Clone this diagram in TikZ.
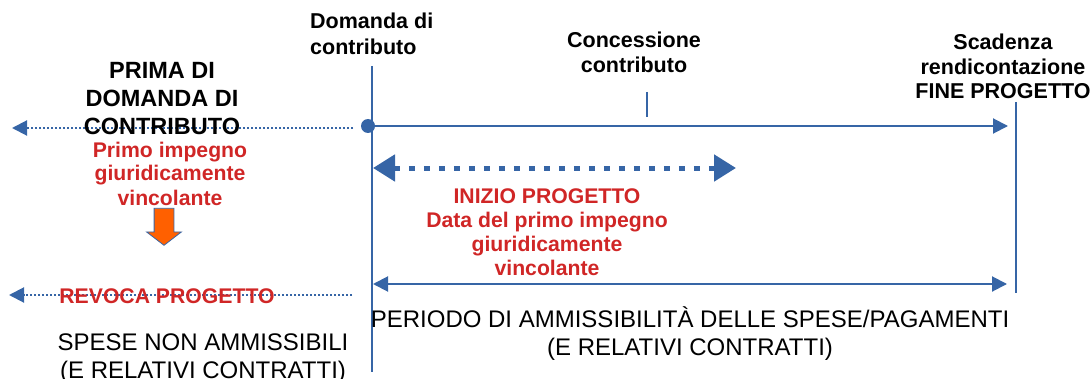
\documentclass[tikz,border=0pt]{standalone}
\usepackage{fontspec}
\setmainfont{Liberation Sans}
\usetikzlibrary{arrows.meta,positioning,shapes.arrows}
\definecolor{lineblue}{RGB}{54,101,166}
\definecolor{textred}{RGB}{208,38,38}
\definecolor{arroworange}{RGB}{255,96,0}
\tikzset{
    vline/.style = {draw=lineblue, line width=2pt},
    solidarrow/.style = {draw=lineblue, line width=2pt, -{Triangle[length=15pt,width=15pt]}},
    dotarrow/.style = {draw=lineblue, line width=2pt, dash pattern=on 2pt off 2pt,
        -{Triangle[length=15pt,width=15pt]}},
    dasharrow/.style = {draw=lineblue, line width=5pt, dash pattern=on 6pt off 9pt,
        {Triangle[length=22pt,width=26pt]}-{Triangle[length=22pt,width=26pt]}},
    dot/.style = {circle, fill=lineblue, inner sep=0pt, minimum size=14pt},
    title/.style = {font=\fontsize{23.5}{28}\selectfont\bfseries, align=center, inner sep=0pt},
    event/.style = {font=\fontsize{21.5}{25}\selectfont\bfseries, align=center, inner sep=0pt},
    redtext/.style = {font=\fontsize{21.2}{24}\selectfont\bfseries, text=textred, align=center, inner sep=0pt},
    plain/.style = {font=\fontsize{24}{28}\selectfont, align=center, inner sep=0pt},
    downarrow/.style = {single arrow, rotate=-90, draw=lineblue, thick,
        fill=arroworange, minimum width=34pt, minimum height=37pt,
        single arrow head extend=7.5pt, single arrow tip angle=105,
        inner xsep=0pt, inner ysep=9.5pt}
}

\begin{document}
\begin{tikzpicture}[x=1pt, y=1pt]
        \useasboundingbox (0,0) rectangle (1091,378);
        % assi verticali
        \coordinate (domtop) at (372,312);
        \coordinate (dombot) at (372,6);
        \draw [vline] (domtop) -- (dombot);
        \coordinate (finetop) at (1016,276);
        \coordinate (finebot) at (1016,85);
        \draw [vline] (finetop) -- (finebot);
        % linea del tempo
        \node [dot] (domanda) at (368,252) {};
        \coordinate (fine) at (1008,252);
        \draw [solidarrow] (domanda) -- (fine);
        \coordinate (contop) at (647,286);
        \coordinate (conbot) at (647,261);
        \draw [vline] (contop) -- (conbot);
        \coordinate (prima) at (353,250);
        \coordinate (primaend) at (12,250);
        \draw [dotarrow] (prima) -- (primaend);
        % inizio progetto
        \coordinate (inizioa) at (373,210);
        \coordinate (iniziob) at (736,210);
        \draw [dasharrow] (inizioa) -- (iniziob);
        % periodo di ammissibilita
        \coordinate (periodoa) at (373,94);
        \coordinate (periodob) at (1007,94);
        \draw [solidarrow, {Triangle[length=15pt,width=15pt]}-{Triangle[length=15pt,width=15pt]}] (periodoa) -- (periodob);
        \coordinate (revoca) at (352,83);
        \coordinate (revocaend) at (9,83);
        \draw [dotarrow] (revoca) -- (revocaend);
        % freccia arancione
        \node [downarrow] (impegno) at (164,155) {};
        % testi
        \node [title, anchor=base] (primadi) at (162,243) {PRIMA DI\\DOMANDA DI\\CONTRIBUTO};
        \node [redtext, anchor=base] (primoimp) at (170,173) {Primo impegno\\giuridicamente\\vincolante};
        \node [event, font=\fontsize{21.5}{26}\selectfont\bfseries, anchor=base west, align=left] (domandadi) at (310,323) {Domanda di\\contributo};
        \node [event, anchor=base] (concessione) at (634,305) {Concessione\\contributo};
        \node [event, font=\fontsize{21.5}{24.5}\selectfont\bfseries, anchor=base] (scadenza) at (1003,279) {Scadenza\\rendicontazione\\FINE PROGETTO};
        \node [redtext, anchor=base] (inizio) at (547,103) {INIZIO PROGETTO\\Data del primo impegno\\giuridicamente\\vincolante};
        \node [redtext, anchor=base] (revocatxt) at (167,75) {REVOCA PROGETTO};
        \node [plain, anchor=base] (spese) at (203,0) {SPESE NON AMMISSIBILI\\(E RELATIVI CONTRATTI)};
        \node [plain, anchor=base] (periodo) at (690,23) {PERIODO DI AMMISSIBILITÀ DELLE SPESE/PAGAMENTI\\(E RELATIVI CONTRATTI)};
\end{tikzpicture}
\end{document}
